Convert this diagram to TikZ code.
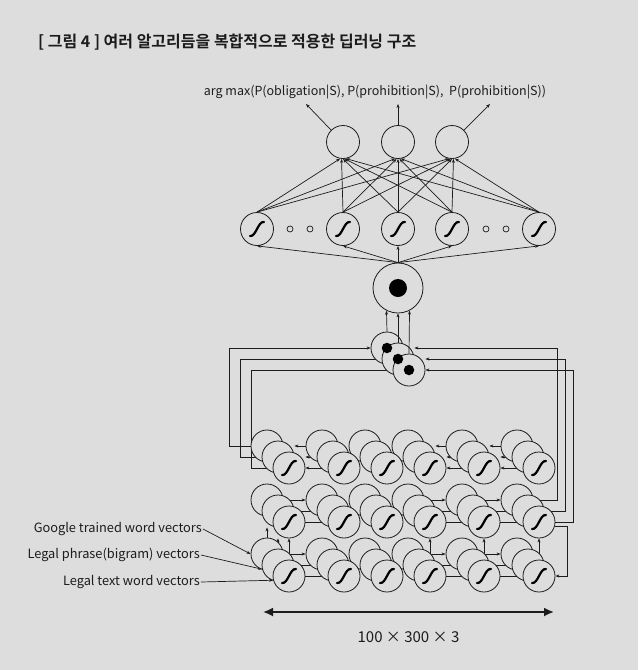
\documentclass[tikz,border=0pt]{standalone}
\usepackage{fontspec}
\setmainfont{Noto Sans CJK KR}[BoldFont={Noto Sans CJK KR Bold}]
\usepackage{tikz}
\usetikzlibrary{arrows.meta,calc,positioning}
\definecolor{grauPapier}{RGB}{220,221,220}
\definecolor{tinte}{RGB}{28,28,28}
\pgfdeclarelayer{papier}
\pgfdeclarelayer{draht}
\pgfsetlayers{papier,draht,main}

\begin{document}
\begin{tikzpicture}[x=1pt,y=-1pt,
  kreis/.style={circle,draw=tinte,fill=grauPapier,line width=0.8pt,minimum size=32pt,inner sep=0pt},
  punkt/.style={circle,fill=black,inner sep=0pt,minimum size=#1},
  klein/.style={circle,draw=tinte,line width=0.7pt,minimum size=6pt,inner sep=0pt},
  draht/.style={tinte,line width=0.7pt},
  >={Stealth[length=4pt,width=3pt]},
  schrift/.style={text=tinte,inner sep=1pt,font=\fontsize{12.8}{14}\selectfont},
  sigma/.pic={\draw[line width=2.2pt,line cap=round,black] (-7,7) .. controls (-1,8) and (1,-8) .. (7,-7);}
]
%Versatz der drei hintereinander liegenden Kreise (Tiefe)
  \pgfmathsetmacro{\versatz}{11}
\begin{pgfonlayer}{papier}
\fill[grauPapier] (0,0) rectangle (638,670);
\end{pgfonlayer}
\useasboundingbox (0,0) rectangle (638,670);

\node[schrift,anchor=base west,font=\fontsize{16}{18}\selectfont\bfseries] (titel) at (37,47) {[ 그림 4 ] 여러 알고리듬을 복합적으로 적용한 딥러닝 구조};
\node[schrift,font=\fontsize{12.5}{14}\selectfont] (argmax) at (375,92) {arg max(P(obligation|S), P(prohibition|S),\ \ P(prohibition|S))};

%Ausgabe und Sigmoid-Schicht
\foreach \j/\x in {1/343,2/398,3/452}{
  \node[kreis,minimum size=33pt] (o\j) at (\x,142) {};
}
\foreach \i/\x in {1/257,2/343,3/398,4/452,5/539}{
  \node[kreis,minimum size=33pt] (s\i) at (\x,229) {};
  \pic at (s\i) {sigma};
}
\foreach \x [count=\n] in {290,310,486,506}{
  \node[klein] (e\n) at (\x,229) {};
}
\coordinate (z1) at (306,104);
\coordinate (z2) at (398,104);
\coordinate (z3) at (490,104);
\draw[draht,->] (o1.north west) -- (z1);
\draw[draht,->] (o2.north) -- (z2);
\draw[draht,->] (o3.north east) -- (z3);
\foreach \i in {1,...,5}{
  \pgfmathtruncatemacro\w{270+5*(\i-3)}
  \foreach \j in {1,2,3}{
    \draw[draht,->] (s\i.north) -- (o\j.\w);
  }
}

%Pooling
\node[kreis,minimum size=50pt] (p) at (398,288) {};
\node[punkt=18pt] (pm) at (p) {};
\foreach \i in {1,...,5}{
  \draw[draht,->] (p.north) -- (s\i.south);
}
\foreach \k in {1,2,3}{
  \node[kreis] (q\k) at ({376+\versatz*\k},{337+\versatz*\k}) {};
}
\foreach \k in {1,2,3}{
  \node[punkt=10.5pt] (qm\k) at (q\k) {};
}
\draw[draht,->] (q1.north) -- (p.243);
\draw[draht,->] (q2.north) -- (p.south);
\draw[draht,->] (q3.north) -- (p.297);

%Gitter: 3 Reihen, 6 Spalten, je 3 Kreise hintereinander
\foreach \tief in {1,2,3}{
  \foreach \zeile/\zy in {1/446,2/500,3/554}{
    \foreach \spalte/\sx in {1/267,2/322,3/365,4/408,5/462,6/517}{
      \node[kreis] (g\zeile\spalte\tief) at ({\sx+\versatz*(\tief-1)},{\zy+\versatz*(\tief-1)}) {};
      \ifnum\tief=3 \pic at (g\zeile\spalte\tief) {sigma};\fi
    }
  }
}

\node[schrift,anchor=east] (lab1) at (203,529) {Google trained word vectors};
\node[schrift,anchor=east] (lab2) at (201,555) {Legal phrase(bigram) vectors};
\node[schrift,anchor=east] (lab3) at (201,582) {Legal text word vectors};

\coordinate (massL) at (263,612);
\coordinate (massR) at (554,612);
\draw[tinte,line width=1.8pt,{Latex[length=10pt,width=9pt]}-{Latex[length=10pt,width=9pt]}] (massL) -- (massR);
\node[schrift,font=\fontsize{15}{17}\selectfont] (mass) at (408.5,637) {100 × 300 × 3};

\begin{pgfonlayer}{draht}
%obere Reihe nach links
\foreach \ziel/\quelle in {1/2,4/5,5/6}{
  \foreach \tief/\vorn in {1/2,2/3,3/3}{
    \draw[draht,->] (g1\quelle\tief.west) -- (g1\quelle\tief.west -| g1\ziel\vorn.east);
  }
}
%mittlere und untere Reihe nach rechts
\foreach \zeile in {2,3}{
  \foreach \quelle/\ziel in {1/2,4/5,5/6}{
    \foreach \tief in {1,2,3}{
      \draw[draht,->] (g\zeile\quelle\tief.east) -- (g\zeile\quelle\tief.east -| g\zeile\ziel\tief.west);
    }
  }
}
%von unten nach oben
\foreach \tief/\vorn in {1/2,2/3,3/3}{
  \draw[draht,->] (g31\tief.north) -- (g31\tief.north |- g21\vorn.south);
}
\foreach \spalte in {4,5,6}{
  \draw[draht,->] (g3\spalte3.north) -- (g3\spalte3.north |- g2\spalte3.south);
}
%Rueckfuehrung zum Pooling
\coordinate (lx1) at (229,0);
\coordinate (lx2) at (240,0);
\coordinate (lx3) at (251,0);
\coordinate (rx1) at (557,0);
\coordinate (rx2) at (565,0);
\coordinate (rx3) at (573,0);
\coordinate (fx) at (567,0);
\draw[draht,->] (g111.west) -- (g111.west -| lx1) |- (q1.west);
\draw[draht,->] (g112.west) -- (g112.west -| lx2) |- (q2.west);
\draw[draht,->] (g113.west) -- (g113.west -| lx3) |- (q3.west);
\draw[draht,->] (g261.east) -- (g261.east -| rx1) |- (q1.east -| q2.east);
\draw[draht,->] (g262.east) -- (g262.east -| rx2) |- (q2.east -| q3.east);
\draw[draht,->] (g263.east) -- (g263.east -| rx3) |- (q3.east);
\draw[draht,->] (g263.-15) -- (g263.-15 -| fx) |- (g363.east);
%Eingaben
\draw[draht,->] (lab1.east) -- (g311.west);
\draw[draht,->] (lab2.east) -- (g312.195);
\draw[draht,->] (lab3.east) -- (g313.195);
\end{pgfonlayer}
\end{tikzpicture}
\end{document}
